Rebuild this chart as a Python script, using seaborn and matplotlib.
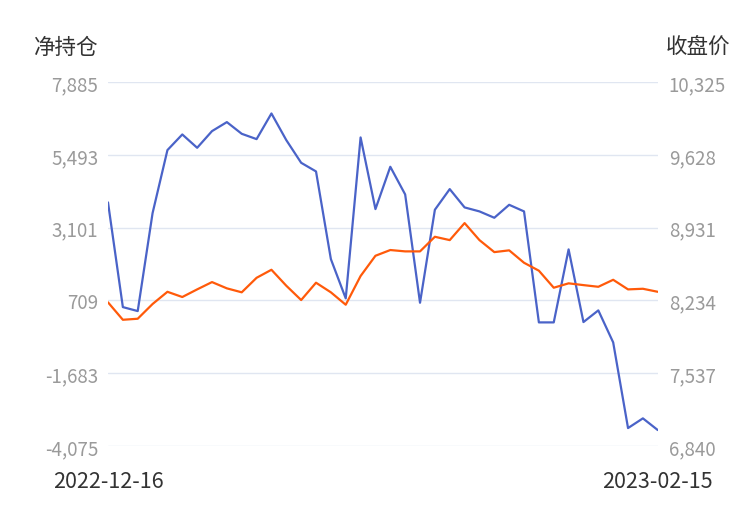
import seaborn as sns
import matplotlib.pyplot as plt
import pandas as pd
import numpy as np

dates = ['2022-12-16', '2022-12-19', '2022-12-20', '2022-12-21', '2022-12-22', '2022-12-23',
         '2022-12-26', '2022-12-27', '2022-12-28', '2022-12-29', '2022-12-30',
         '2023-01-03', '2023-01-04', '2023-01-05', '2023-01-06', '2023-01-09', '2023-01-10',
         '2023-01-11', '2023-01-12', '2023-01-13', '2023-01-16', '2023-01-17', '2023-01-18',
         '2023-01-19', '2023-01-20', '2023-01-30', '2023-01-31',
         '2023-02-01', '2023-02-02', '2023-02-03', '2023-02-06', '2023-02-07', '2023-02-08',
         '2023-02-09', '2023-02-10', '2023-02-13', '2023-02-14', '2023-02-15']
net_position = [3932, 491, 360, 3580, 5651, 6165, 5727, 6275, 6571, 6187, 6012, 6855,
                5979, 5234, 4950, 2069, 777, 6067, 3712, 5103, 4194, 634, 3690, 4369,
                3767, 3636, 3427, 3853, 3636, -12, -12, 2387, -1, 383, -669, -3485,
                -3166, -3550]
close_price = [8216, 8049, 8059, 8200, 8317, 8267, 8340, 8410, 8350, 8312, 8451, 8528,
               8375, 8238, 8404, 8312, 8193, 8468, 8662, 8717, 8704, 8704, 8844, 8812,
               8975, 8812, 8697, 8714, 8595, 8519, 8356, 8398, 8381, 8365, 8432, 8340,
               8346, 8317]
left_ticks = [-4075, -1683, 709, 3101, 5493, 7885]
right_ticks = [6840, 7537, 8234, 8931, 9628, 10325]

df = pd.DataFrame({'idx': range(len(dates)), 'date': dates,
                   'net': net_position, 'close': close_price})

sns.set_theme(style='white')
plt.rcParams['font.family'] = ['Noto Sans CJK SC', 'DejaVu Sans']

fig = plt.figure(figsize=(7.5, 5.1), dpi=100)
ax = fig.add_axes([0.144, 0.1235, 0.733, 0.7135])
ax2 = ax.twinx()

sns.lineplot(data=df, x='idx', y='net', ax=ax, color='#4a63c8', linewidth=1.6)
sns.lineplot(data=df, x='idx', y='close', ax=ax2, color='#ff5a0a', linewidth=1.6)

ax.set_xlim(0, len(dates) - 1)
ax.set_ylim(left_ticks[0], left_ticks[-1])
ax2.set_ylim(right_ticks[0], right_ticks[-1])
ax.set_yticks(left_ticks)
ax2.set_yticks(right_ticks)
ax.set_yticklabels([f'{v:,}' for v in left_ticks])
ax2.set_yticklabels([f'{v:,}' for v in right_ticks])
ax.set_xticks([0, len(dates) - 1])
ax.set_xticklabels([dates[0], dates[-1]])

ax.grid(axis='y', color='#e0e6f1', linewidth=1)
ax2.grid(False)
for a in (ax, ax2):
    for s in a.spines.values():
        s.set_visible(False)
    a.set_xlabel('')
    a.set_ylabel('')
ax.tick_params(axis='y', length=0, pad=7, labelsize=13.5, labelcolor='#9a9a9a')
ax2.tick_params(axis='y', length=0, pad=8, labelsize=13.5, labelcolor='#9a9a9a')
ax.tick_params(axis='x', length=0, pad=17, labelsize=15.5, labelcolor='#333333')
for lbl in ax.get_yticklabels() + ax2.get_yticklabels():
    lbl.set_fontweight('light')

fig.text(66 / 750, 1 - 48 / 510, '净持仓', ha='center', va='center', fontsize=15.5, color='#333333')
fig.text(698 / 750, 1 - 48 / 510, '收盘价', ha='center', va='center', fontsize=15.5, color='#333333')

fig.savefig('out.png', dpi=100)
